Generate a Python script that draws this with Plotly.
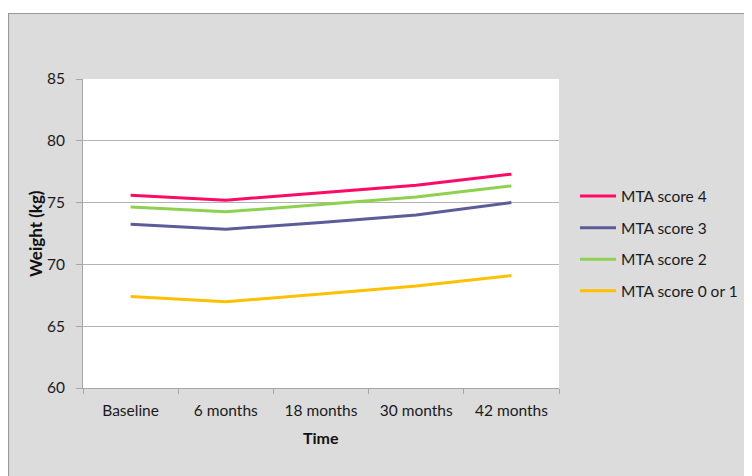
import plotly.graph_objects as go

categories = ["Baseline", "6 months", "18 months", "30 months", "42 months"]
series_names = ["MTA score 4", "MTA score 3", "MTA score 2", "MTA score 0 or 1"]
mta4 = [75.6, 75.2, 75.8, 76.4, 77.3]
mta3 = [73.25, 72.85, 73.4, 74.0, 75.0]
mta2 = [74.65, 74.25, 74.85, 75.45, 76.35]
mta01 = [67.4, 66.98, 67.6, 68.25, 69.1]
colors = ["#FF0A64", "#5C5C99", "#8DD14F", "#FFC000"]

FONT = "Lato"
OFF = 8  # page body margin
W, H = 744, 468
L, T = 83 - OFF, 79 - OFF
pw, ph = 476, 309
R, B = W - L - pw, H - T - ph

def px_x(x):
    return (x - OFF - L) / pw

def px_y(y):
    return 1 - (y - OFF - T) / ph

fig = go.Figure()
for name, vals, col in zip(series_names, [mta4, mta3, mta2, mta01], colors):
    fig.add_trace(go.Scatter(x=categories, y=vals, name=name, mode="lines",
                             line=dict(color=col, width=3), legendgroup=name))

fig.update_layout(
    width=W, height=H,
    margin=dict(l=L, r=R, t=T, b=B, autoexpand=False),
    paper_bgcolor="white",
    plot_bgcolor="white",
    font=dict(family=FONT, size=15, color="#1a1a1a"),
    showlegend=True,
    legend=dict(x=px_x(575), y=px_y(179.5), xanchor="left", yanchor="top",
                bgcolor="rgba(0,0,0,0)", font=dict(family=FONT, size=15.5, color="#1a1a1a"),
                tracegroupgap=8.4, itemwidth=36),
    shapes=[
        dict(type="rect", xref="paper", yref="paper", layer="below",
             x0=px_x(8.5), x1=px_x(800), y0=px_y(13.5), y1=px_y(520),
             fillcolor="#DCDCDC", line=dict(color="#9A9A9A", width=1.2)),
        dict(type="rect", xref="paper", yref="paper", layer="below",
             x0=0, x1=1, y0=0, y1=1, fillcolor="white", line=dict(width=0)),
    ],
    annotations=[
        dict(text="<b>Weight (kg)</b>", xref="paper", yref="paper",
             x=px_x(35), y=px_y(234), textangle=-90, showarrow=False,
             xanchor="center", yanchor="middle",
             font=dict(family=FONT, size=17, color="#111")),
        dict(text="<b>Time</b>", xref="paper", yref="paper",
             x=px_x(321), y=px_y(437), showarrow=False,
             xanchor="center", yanchor="middle",
             font=dict(family=FONT, size=16, color="#111")),
    ],
)

fig.update_xaxes(
    type="category", range=[-0.5, 4.5], showgrid=False, showline=True,
    linecolor="#A6A6A6", linewidth=1, automargin=False,
    ticks="outside", tickson="boundaries", ticklen=5, tickcolor="#A6A6A6",
    tickfont=dict(family=FONT, size=15.5, color="#1a1a1a"), ticklabelstandoff=8,
)
fig.update_yaxes(
    range=[60, 85], dtick=5, showgrid=True, gridcolor="#B4B4B4", gridwidth=1,
    showline=True, linecolor="#A6A6A6", linewidth=1, automargin=False,
    ticks="outside", ticklen=6, tickcolor="#A6A6A6",
    tickfont=dict(family=FONT, size=15.5, color="#1a1a1a"), ticklabelstandoff=8,
    zeroline=False,
)

fig.write_html("out.html")
